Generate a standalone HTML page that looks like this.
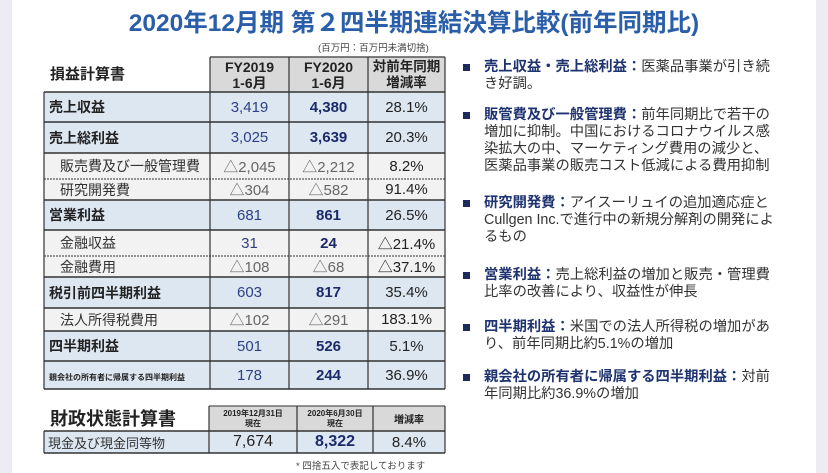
<!DOCTYPE html>
<html><head><meta charset="utf-8"><style>
*{margin:0;padding:0;box-sizing:border-box}
body{width:828px;height:473px;background:#ececf2;position:relative;overflow:hidden;font-family:"Liberation Sans","Noto Sans CJK JP",sans-serif}
#pg{position:absolute;left:12px;top:0;width:804px;height:473px;background:#fff}
.a{position:absolute;white-space:nowrap}
.c{position:absolute;display:flex;align-items:center;justify-content:center;font-size:15px;color:#222}
.c>div{text-align:center;white-space:nowrap}
.l{justify-content:flex-start}
.l>div{text-align:left}
.bl{background:#dde7f2}.gr{background:#f2f2f2}.hd{background:#d9d9d9}
.n1{color:#2d3f85}.n2{color:#1c2a6b;font-weight:bold}.ng{color:#666}
.b{font-weight:bold}
.bul{position:absolute;left:463px;font-size:14.3px;line-height:17px;color:#333;width:318px}
.bul::before{content:"";position:absolute;left:0;top:5px;width:7px;height:7px;background:#1c2a5c}
.bul div{margin-left:21px}
.bul b{color:#1f3370}
</style></head><body>
<div id="pg"></div>
<div class="a" style="left:0;width:828px;top:4px;text-align:center;font-size:24.5px;font-weight:bold;color:#2a5ea8">2020年12月期 第２四半期連結決算比較(前年同期比)</div>
<div class="a" style="left:318px;top:40px;font-size:9.5px;color:#444">(百万円：百万円未満切捨)</div>
<div class="a b" style="left:50px;top:63px;font-size:15px;color:#222">損益計算書</div>
<svg class="a" style="left:0;top:0" width="828" height="473"></svg>
<div id="t"></div>
<script>
var rows=[
["売上収益",92,122,1,"3,419","4,380","28.1%"],
["売上総利益",122,153,1,"3,025","3,639","20.3%"],
["販売費及び一般管理費",153,179,0,"△2,045","△2,212","8.2%"],
["研究開発費",179,200,0,"△304","△582","91.4%"],
["営業利益",200,230,1,"681","861","26.5%"],
["金融収益",230,256,0,"31","24","△21.4%"],
["金融費用",256,277,0,"△108","△68","△37.1%"],
["税引前四半期利益",277,308,1,"603","817","35.4%"],
["法人所得税費用",308,331,0,"△102","△291","183.1%"],
["四半期利益",331,361,1,"501","526","5.1%"],
["親会社の所有者に帰属する四半期利益",361,389,1,"178","244","36.9%"]];
var h="";
function cell(x1,x2,y1,y2,cls,txt,st){h+='<div class="c '+cls+'" style="left:'+x1+'px;width:'+(x2-x1)+'px;top:'+y1+'px;height:'+(y2-y1)+'px;'+(st||'')+'"><div>'+txt+'</div></div>';}
cell(210,289,57,92,"hd b","FY2019<br>1-6月","line-height:16px;font-size:14px");
cell(289,368,57,92,"hd b","FY2020<br>1-6月","line-height:16px;font-size:14px");
cell(368,445,57,92,"hd b","対前年同期<br>増減率","line-height:16px;font-size:13.5px");
var svg="";
rows.forEach(function(r,i){
 var bg=r[3]?"bl":"gr";
 var lab=r[3]?(i==10?'<span style="font-size:8px;font-weight:bold">'+r[0]+'</span>':'<b style="font-size:14px">'+r[0]+'</b>'):'<span style="padding-left:11px;font-size:14px;color:#333">'+r[0]+'</span>';
 cell(44,210,r[1],r[2],bg+" l",lab,"padding-left:5px");
 var neg1=r[4][0]=="△",neg2=r[5][0]=="△";
 cell(210,289,r[1],r[2],bg+" "+(neg1?"ng":"n1"),r[4]);
 cell(289,368,r[1],r[2],bg+" "+(neg2?"ng":"n2"),r[5]);
 cell(368,445,r[1],r[2],bg,r[6]);
 var dashed=(!r[3]&&i>0&&!rows[i-1][3]);
 svg+='<line x1="44" x2="445" y1="'+r[1]+'" y2="'+r[1]+'" stroke="#333" stroke-width="'+(dashed?1:1.5)+'" '+(dashed?'stroke-dasharray="2,1"':'')+'/>';
});
svg+='<line x1="44" x2="445" y1="389" y2="389" stroke="#333" stroke-width="1.5"/>';
svg+='<line x1="210" x2="445" y1="57" y2="57" stroke="#555" stroke-width="1.5"/>';
[44,210,289,368,445].forEach(function(x){svg+='<line x1="'+x+'" x2="'+x+'" y1="'+(x==44?92:57)+'" y2="389" stroke="#333" stroke-width="1.2"/>';});
cell(209,297,406,431,"hd b","2019年12月31日<br>現在","font-size:8px;line-height:10px");
cell(297,373,406,431,"hd b","2020年6月30日<br>現在","font-size:8px;line-height:10px");
cell(373,445,406,431,"hd b","増減率","font-size:10px");
cell(44,209,431,453,"bl l",'<span style="font-size:13px;color:#333">現金及び現金同等物</span>',"padding-left:4px");
cell(209,297,431,453,"bl","7,674","font-size:16px");
cell(297,373,431,453,"bl n2","8,322","font-size:16px");
cell(373,445,431,453,"bl","8.4%","font-size:15px");
svg+='<line x1="209" x2="445" y1="406" y2="406" stroke="#555" stroke-width="1.2"/><line x1="44" x2="445" y1="431" y2="431" stroke="#333" stroke-width="1.5"/><line x1="44" x2="445" y1="453" y2="453" stroke="#333" stroke-width="1.5"/>';
[[44,431],[209,406],[297,406],[373,406],[445,406]].forEach(function(p){svg+='<line x1="'+p[0]+'" x2="'+p[0]+'" y1="'+p[1]+'" y2="453" stroke="#333" stroke-width="1.2"/>';});
document.getElementById("t").innerHTML=h;
document.body.appendChild(document.querySelector("svg"));
document.querySelector("svg").innerHTML=svg;
</script>
<div class="a b" style="left:50px;top:405px;font-size:18px;color:#222">財政状態計算書</div>
<div class="a" style="left:296px;top:458px;font-size:9.5px;color:#444">* 四捨五入で表記しております</div>
<div class="bul" style="top:59px"><div><b>売上収益・売上総利益：</b>医薬品事業が引き続き好調。</div></div>
<div class="bul" style="top:107px"><div><b>販管費及び一般管理費：</b>前年同期比で若干の増加に抑制。中国におけるコロナウイルス感染拡大の中、マーケティング費用の減少と、医薬品事業の販売コスト低減による費用抑制</div></div>
<div class="bul" style="top:195px"><div><b>研究開発費：</b>アイスーリュイの追加適応症とCullgen Inc.で進行中の新規分解剤の開発によるもの</div></div>
<div class="bul" style="top:267px"><div><b>営業利益：</b>売上総利益の増加と販売・管理費比率の改善により、収益性が伸長</div></div>
<div class="bul" style="top:319px"><div><b>四半期利益：</b>米国での法人所得税の増加があり、前年同期比約5.1%の増加</div></div>
<div class="bul" style="top:369px"><div><b>親会社の所有者に帰属する四半期利益：</b>対前年同期比約36.9%の増加</div></div>
</body></html>
